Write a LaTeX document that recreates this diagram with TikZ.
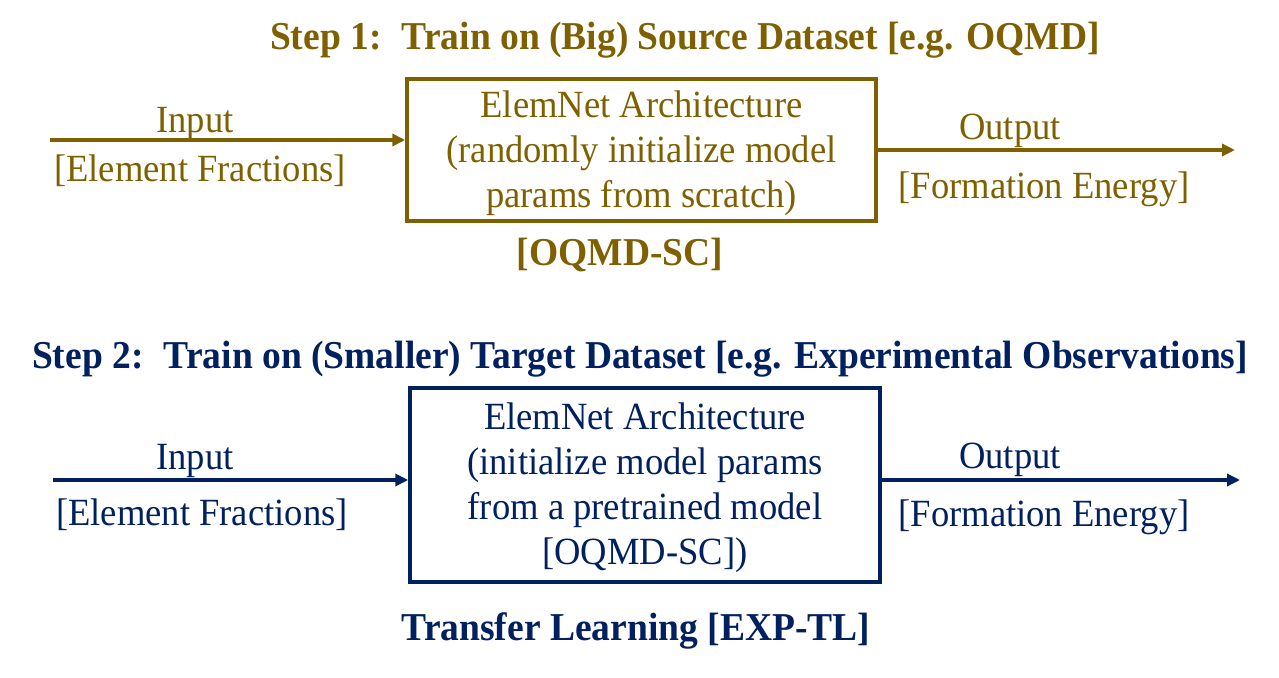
\documentclass[tikz,border=0pt]{standalone}
\usepackage{fontspec}
\setmainfont{Liberation Serif}[FakeStretch=0.95]
\usetikzlibrary{arrows.meta}
\definecolor{gold}{HTML}{7F6000}
\definecolor{navy}{HTML}{002060}
\begin{document}
\begin{tikzpicture}[x=1pt,y=-1pt,
  lbl/.style={inner sep=0pt,yshift=-3pt,font=\fontsize{38.5}{44}\selectfont},
  ttl/.style={inner sep=0pt,yshift=-3pt,font=\fontsize{39.5}{44}\selectfont\bfseries},
  archbox/.style={draw,line width=3.5pt,inner sep=0pt},
  archtext/.style={inner sep=0pt,yshift=-3pt,align=center,font=\fontsize{38.5}{45}\selectfont},
  flow/.style={line width=3.5pt,-{Triangle[length=13pt,width=12pt]}}]
\useasboundingbox (0,0) rectangle (1279,677);
% Step 1
\begin{scope}[gold,text=gold]
\node[ttl] (title1) at (685,37) {Step 1:\hspace{0.2em} Train on (Big) Source Dataset [e.g. OQMD]};
\node[archbox,minimum width=469pt,minimum height=142pt] (box1) at (641.5,150) {};
\node[archtext] (box1txt) at (box1.center)
  {ElemNet Architecture\\(randomly initialize model\\params from scratch)};
\coordinate (in1) at (50,140);
\coordinate (out1) at (1235,150);
\draw[flow] (in1) -- (in1 -| box1.west);
\draw[flow] (box1.east) -- (out1);
\node[lbl] (inlab1) at (195,121) {Input};
\node[lbl] (inlab1b) at (200,168) {[Element Fractions]};
\node[lbl] (outlab1) at (1010,128) {Output};
\node[lbl] (outlab1b) at (1044,186) {[Formation Energy]};
\node[ttl] (name1) at (620,252) {[OQMD-SC]};
\end{scope}
% Step 2
\begin{scope}[navy,text=navy]
\node[ttl] (title2) at (640,356) {Step 2:\hspace{0.2em} Train on (Smaller) Target Dataset [e.g. Experimental Observations]};
\node[archbox,minimum width=470pt,minimum height=194pt] (box2) at (645,485) {};
\node[archtext] (box2txt) at (box2.center)
  {ElemNet Architecture\\(initialize model params\\from a pretrained model\\{[OQMD-SC])}};
\coordinate (in2) at (53,480);
\coordinate (out2) at (1240,480);
\draw[flow] (in2) -- (in2 -| box2.west);
\draw[flow] (in2 -| box2.east) -- (out2);
\node[lbl] (inlab2) at (195,458) {Input};
\node[lbl] (inlab2b) at (202,512) {[Element Fractions]};
\node[lbl] (outlab2) at (1010,457) {Output};
\node[lbl] (outlab2b) at (1044,514) {[Formation Energy]};
\node[ttl] (name2) at (636,628) {Transfer Learning [EXP-TL]};
\end{scope}
\end{tikzpicture}
\end{document}
